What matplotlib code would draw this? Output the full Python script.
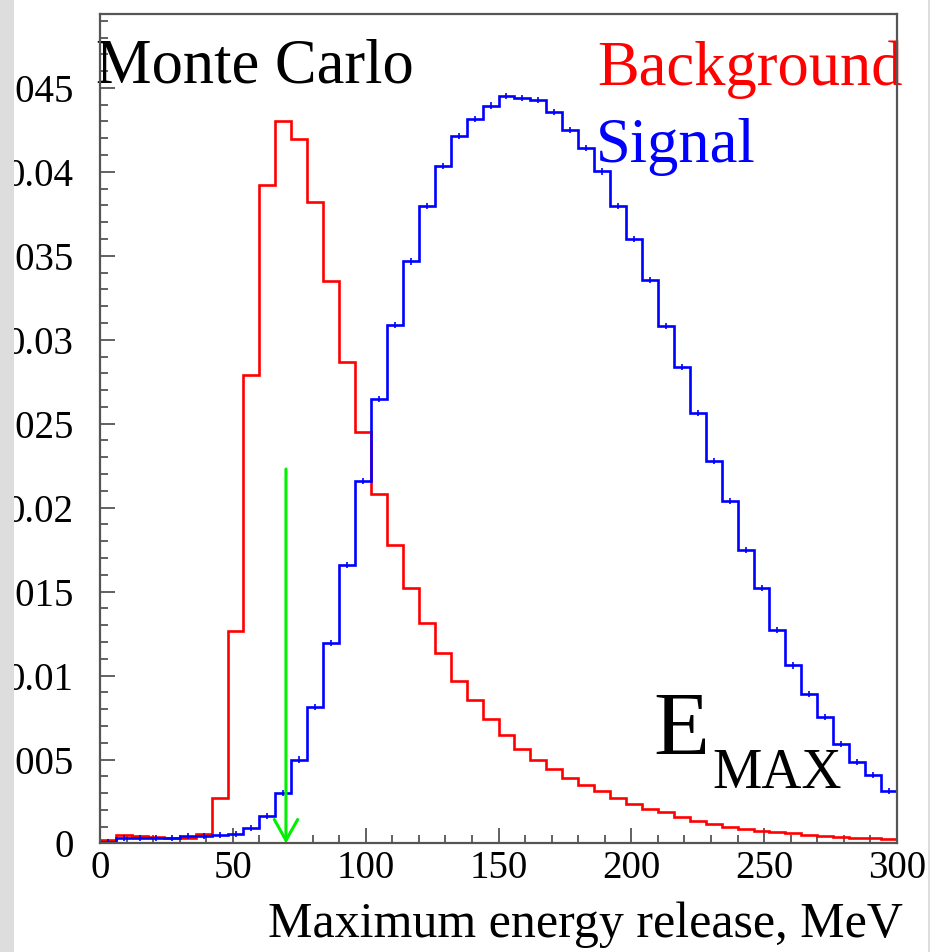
import matplotlib
matplotlib.use("Agg")
import matplotlib.pyplot as plt
import numpy as np
from matplotlib.patches import Rectangle
from matplotlib.ticker import MultipleLocator

SERIF = ["Liberation Serif", "DejaVu Serif"]
plt.rcParams["font.family"] = SERIF

# 50 bins of 6 MeV, 0..300 MeV
BIN_EDGES = np.arange(0, 301, 6)

BACKGROUND = [
    0.0002, 0.00048, 0.00045, 0.0004, 0.00035, 0.00035, 0.00054, 0.00272, 0.01264, 0.0279,
    0.0392, 0.04305, 0.04194, 0.03823, 0.03347, 0.02865, 0.0245, 0.02083, 0.01776, 0.0152,
    0.01314, 0.01135, 0.0097, 0.00853, 0.00744, 0.00645, 0.00565, 0.0050, 0.00444, 0.0039,
    0.00351, 0.00311, 0.00272, 0.00238, 0.00206, 0.00186, 0.00159, 0.00133, 0.00113, 0.001,
    0.00087, 0.00077, 0.00067, 0.0006, 0.0005, 0.00044, 0.00038, 0.00034, 0.0003, 0.00026,
]
SIGNAL = [
    0.0001, 0.00034, 0.00034, 0.0003, 0.00034, 0.00042, 0.00046, 0.0005, 0.00058, 0.00091,
    0.00163, 0.00302, 0.0050, 0.00814, 0.01195, 0.01661, 0.02157, 0.02649, 0.03085, 0.03466,
    0.03798, 0.04036, 0.04214, 0.04313, 0.04395, 0.04452, 0.04438, 0.04429, 0.04359, 0.0425,
    0.04141, 0.04002, 0.03798, 0.03601, 0.03357, 0.03079, 0.02837, 0.02564, 0.0228, 0.02038,
    0.0175, 0.01522, 0.01274, 0.0106, 0.00891, 0.00754, 0.00595, 0.00486, 0.00407, 0.00315,
]
SIGNAL_ERR = 0.00018

CUT_X = 70
CUT_TOP = 0.0223

XTICKS = [0, 50, 100, 150, 200, 250, 300]
YTICKS = [0, 0.005, 0.01, 0.015, 0.02, 0.025, 0.03, 0.035, 0.04, 0.045]
YTICK_LABELS = ["0", "0.005", "0.01", "0.015", "0.02", "0.025", "0.03", "0.035", "0.04", "0.045"]

FRAME = "#555555"

fig = plt.figure(figsize=(9.33, 9.52), dpi=100)
ax = fig.add_axes([0.1072, 0.1140, 0.8542, 0.8713])

ax.stairs(BACKGROUND, BIN_EDGES, color="#ff0000", lw=1.9, zorder=3)
ax.stairs(SIGNAL, BIN_EDGES, color="#0000ff", lw=1.9, zorder=4)
centers = 0.5 * (BIN_EDGES[:-1] + BIN_EDGES[1:])
ax.errorbar(centers, SIGNAL, yerr=SIGNAL_ERR, fmt="none", ecolor="#0000ff",
            elinewidth=1.2, capsize=0, zorder=4)

ax.annotate("", xy=(CUT_X, 0), xytext=(CUT_X, CUT_TOP),
            arrowprops=dict(arrowstyle="->,head_length=0.75,head_width=0.42",
                            mutation_scale=20, color="#00f000", lw=2.2,
                            shrinkA=0, shrinkB=0),
            zorder=5)

ax.set_xlim(0, 300)
ax.set_ylim(0, 0.0494)
ax.set_xticks(XTICKS)
ax.set_yticks(YTICKS)
ax.set_yticklabels(YTICK_LABELS)
ax.xaxis.set_minor_locator(MultipleLocator(10))
ax.yaxis.set_minor_locator(MultipleLocator(0.001))
ax.tick_params(which="both", direction="in", top=False, right=False,
               color=FRAME, width=1.3, labelsize=28)
ax.tick_params(which="major", length=11)
ax.tick_params(which="minor", length=5.5)
ax.tick_params(axis="x", pad=5)
ax.tick_params(axis="y", pad=19)
for s in ax.spines.values():
    s.set_color(FRAME)
    s.set_linewidth(1.6)
    s.set_zorder(6)

ax.set_xlabel("Maximum energy release, MeV", fontsize=36, family=SERIF,
              ha="right", va="baseline")
ax.xaxis.set_label_coords(1.0075, -0.113)

ax.text(-0.005, 0.918, "Monte Carlo", transform=ax.transAxes, fontsize=45,
        family=SERIF, color="black", clip_on=False, zorder=2)
ax.text(1.0075, 0.914, "Background", transform=ax.transAxes, fontsize=45,
        family=SERIF, color="#ff0000", ha="right", clip_on=False, zorder=2)
ax.text(0.622, 0.8216, "Signal", transform=ax.transAxes, fontsize=45,
        family=SERIF, color="#0000ff", clip_on=False, zorder=2)
ax.text(0.694, 0.1067, "E", transform=ax.transAxes, fontsize=66,
        family=SERIF, color="black", zorder=2)
ax.text(0.768, 0.0669, "MAX", transform=ax.transAxes, fontsize=40,
        family=SERIF, color="black", zorder=2)

# grey page edges of the original screenshot
fig.patches.append(Rectangle((0, 0), 14 / 933, 1, transform=fig.transFigure,
                             facecolor="#dddddd", edgecolor="none", zorder=10))
fig.patches.append(Rectangle((928 / 933, 0), 2 / 933, 1, transform=fig.transFigure,
                             facecolor="#dddddd", edgecolor="none", zorder=10))

fig.savefig("out.png", dpi=100, facecolor="white")
